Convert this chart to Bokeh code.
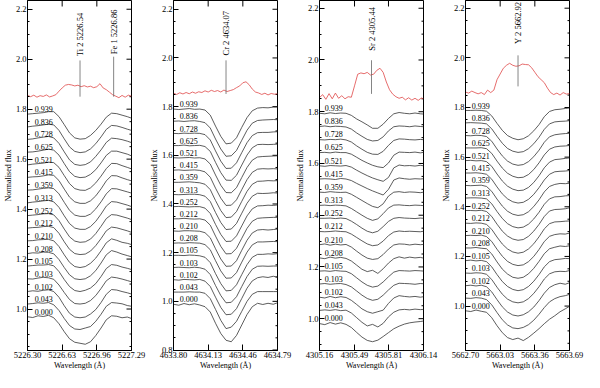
import math
from bokeh.plotting import figure
from bokeh.layouts import row
from bokeh.models import (Range1d, FixedTicker, SingleIntervalTicker,
                          PrintfTickFormatter, ColumnDataSource)
from bokeh.core.properties import value
from bokeh.embed import file_html
from bokeh.resources import INLINE

FONT = "Liberation Serif"

phases = ["0.939", "0.836", "0.728", "0.625", "0.521", "0.415", "0.359", "0.313",
          "0.252", "0.212", "0.210", "0.208", "0.105", "0.103", "0.102", "0.043", "0.000"]

# ---------------- Panel 1 : Ti 2 / Fe 1 ----------------
p1_wave = [5226.30, 5226.35, 5226.40, 5226.45, 5226.50, 5226.55, 5226.60, 5226.65, 5226.70,
           5226.75, 5226.80, 5226.85, 5226.90, 5226.95, 5227.00, 5227.05, 5227.10, 5227.15,
           5227.20, 5227.25, 5227.29]
p1_flux = [
    [1.000,1.002,1.004,1.006,1.010,1.010,0.990,0.958,0.925,0.905,0.900,0.902,0.915,0.935,0.960,0.988,1.004,1.002,0.996,0.990,0.984],
    [1.000,1.003,1.005,1.008,1.011,1.008,0.986,0.952,0.920,0.902,0.897,0.900,0.912,0.933,0.960,0.990,1.006,1.004,0.998,0.991,0.986],
    [1.000,1.002,1.006,1.009,1.012,1.006,0.984,0.950,0.918,0.900,0.896,0.899,0.910,0.932,0.958,0.988,1.005,1.003,0.999,0.993,0.987],
    [1.000,1.001,1.004,1.008,1.012,1.008,0.988,0.954,0.922,0.903,0.898,0.900,0.911,0.930,0.957,0.987,1.004,1.004,0.998,0.992,0.985],
    [1.000,1.003,1.005,1.007,1.011,1.009,0.990,0.957,0.925,0.905,0.899,0.898,0.908,0.928,0.955,0.985,1.006,1.005,0.997,0.990,0.984],
    [1.000,1.002,1.003,1.006,1.010,1.008,0.987,0.953,0.921,0.902,0.896,0.896,0.906,0.926,0.954,0.986,1.007,1.006,0.998,0.991,0.986],
    [1.000,1.001,1.004,1.007,1.009,1.006,0.985,0.951,0.919,0.900,0.895,0.895,0.904,0.925,0.953,0.985,1.006,1.005,0.999,0.993,0.988],
    [1.000,1.003,1.005,1.008,1.010,1.004,0.982,0.948,0.917,0.899,0.894,0.894,0.905,0.926,0.955,0.987,1.005,1.003,0.997,0.991,0.985],
    [1.000,1.002,1.004,1.007,1.008,1.003,0.980,0.946,0.915,0.898,0.893,0.895,0.906,0.928,0.957,0.988,1.004,1.002,0.996,0.990,0.984],
    [1.000,1.002,1.003,1.006,1.007,1.002,0.979,0.945,0.915,0.898,0.894,0.896,0.908,0.930,0.958,0.989,1.004,1.001,0.995,0.989,0.983],
    [1.000,1.001,1.004,1.005,1.006,1.000,0.977,0.944,0.914,0.897,0.893,0.897,0.910,0.931,0.960,0.992,1.008,1.002,0.994,0.990,0.985],
    [1.000,1.003,1.002,1.006,1.005,0.999,0.976,0.944,0.915,0.899,0.896,0.899,0.911,0.932,0.962,0.995,1.012,1.006,0.998,0.992,0.987],
    [1.000,1.002,1.004,1.004,1.006,1.001,0.978,0.946,0.918,0.902,0.898,0.903,0.912,0.930,0.958,0.990,1.006,1.003,0.996,0.991,0.986],
    [1.000,0.999,1.003,1.006,1.004,0.998,0.975,0.945,0.917,0.901,0.899,0.902,0.913,0.933,0.961,0.992,1.007,1.004,0.999,0.993,0.988],
    [1.000,1.003,1.001,1.005,1.007,1.000,0.977,0.943,0.913,0.898,0.895,0.898,0.910,0.928,0.956,0.989,1.008,1.006,1.000,0.995,0.990],
    [1.000,1.002,1.005,1.003,1.006,0.997,0.974,0.942,0.914,0.900,0.898,0.904,0.910,0.931,0.959,0.991,1.006,1.004,1.001,0.994,0.991],
    [1.000,0.997,1.004,1.001,1.006,0.996,0.972,0.940,0.912,0.898,0.894,0.890,0.900,0.925,0.955,0.988,1.004,1.002,0.996,0.999,0.993],
]
p1_offset = [1.780, 1.729, 1.679, 1.628, 1.577, 1.527, 1.476, 1.425, 1.374, 1.324, 1.273,
             1.222, 1.172, 1.121, 1.070, 1.020, 0.969]
p1_red_wave = [5226.30, 5226.33, 5226.36, 5226.39, 5226.42, 5226.45, 5226.48, 5226.51, 5226.54,
               5226.57, 5226.60, 5226.63, 5226.66, 5226.69, 5226.72, 5226.75, 5226.78, 5226.81,
               5226.84, 5226.87, 5226.90, 5226.93, 5226.96, 5226.99, 5227.02, 5227.05, 5227.08,
               5227.11, 5227.14, 5227.17, 5227.20, 5227.23, 5227.26, 5227.29]
p1_red_flux = [1.855, 1.850, 1.856, 1.848, 1.854, 1.851, 1.857, 1.849, 1.853, 1.858, 1.872,
               1.885, 1.896, 1.899, 1.897, 1.893, 1.896, 1.890, 1.894, 1.889, 1.892, 1.886,
               1.890, 1.902, 1.885, 1.878, 1.868, 1.858, 1.852, 1.846, 1.855, 1.848, 1.856, 1.852]
p1_xticks = [5226.30, 5226.63, 5226.96, 5227.29]
p1_yrange = [0.834, 2.235]
p1_ids = ["Ti 2 5226.54", "Fe 1 5226.86"]
p1_id_x = [5226.80, 5227.12]
p1_id_low = [1.850, 1.850]
p1_id_high = [1.995, 2.010]
p1_id_text_y = [2.012, 2.020]
p1_label_x = 5226.37

# ---------------- Panel 2 : Cr 2 ----------------
p2_wave = [4633.80, 4633.85, 4633.90, 4633.95, 4634.00, 4634.05, 4634.10, 4634.15, 4634.20,
           4634.25, 4634.30, 4634.35, 4634.40, 4634.45, 4634.50, 4634.55, 4634.60, 4634.65,
           4634.70, 4634.75, 4634.79]
p2_flux = [
    [1.000,0.998,1.000,1.002,0.999,1.000,0.996,0.975,0.930,0.888,0.857,0.860,0.882,0.925,0.965,0.993,1.004,1.006,1.005,1.008,1.008],
    [1.000,1.001,0.999,1.001,1.002,0.999,0.994,0.972,0.927,0.886,0.856,0.858,0.880,0.922,0.963,0.992,1.003,1.005,1.006,1.007,1.006],
    [1.000,0.999,1.001,1.000,1.001,1.000,0.995,0.973,0.928,0.886,0.856,0.857,0.879,0.921,0.962,0.991,1.003,1.004,1.004,1.006,1.007],
    [1.000,1.000,1.002,0.999,1.000,1.001,0.996,0.976,0.931,0.889,0.858,0.857,0.878,0.920,0.961,0.991,1.004,1.005,1.004,1.005,1.006],
    [1.000,0.999,1.000,1.001,0.999,1.000,0.995,0.974,0.929,0.887,0.857,0.856,0.877,0.919,0.960,0.990,1.003,1.005,1.006,1.007,1.008],
    [1.000,1.001,0.999,1.000,1.001,0.999,0.993,0.971,0.926,0.885,0.855,0.856,0.878,0.920,0.961,0.991,1.004,1.006,1.005,1.006,1.005],
    [1.000,1.000,1.001,1.002,1.000,0.998,0.992,0.970,0.925,0.884,0.855,0.857,0.880,0.922,0.963,0.992,1.004,1.005,1.007,1.006,1.007],
    [1.000,0.999,1.000,1.001,1.001,0.999,0.993,0.971,0.926,0.885,0.856,0.858,0.881,0.923,0.964,0.993,1.005,1.004,1.005,1.007,1.006],
    [1.000,1.001,1.000,0.999,1.000,1.000,0.994,0.972,0.927,0.886,0.857,0.858,0.880,0.921,0.962,0.991,1.003,1.004,1.006,1.005,1.007],
    [1.000,1.000,1.002,1.000,0.999,1.000,0.995,0.974,0.929,0.887,0.856,0.857,0.879,0.920,0.961,0.990,1.002,1.004,1.005,1.006,1.006],
    [1.000,0.999,1.001,1.001,1.000,0.999,0.993,0.972,0.927,0.885,0.855,0.856,0.878,0.921,0.962,0.992,1.004,1.006,1.004,1.006,1.008],
    [1.000,1.001,1.000,1.002,1.001,1.000,0.994,0.973,0.928,0.886,0.856,0.857,0.879,0.922,0.963,0.993,1.005,1.005,1.006,1.007,1.006],
    [1.000,1.000,0.999,1.001,1.000,0.998,0.992,0.970,0.925,0.884,0.854,0.856,0.879,0.921,0.962,0.992,1.004,1.004,1.006,1.005,1.007],
    [1.000,1.001,1.000,0.999,1.001,0.999,0.993,0.971,0.926,0.885,0.855,0.857,0.880,0.922,0.963,0.993,1.005,1.006,1.005,1.006,1.006],
    [1.000,0.998,1.001,1.000,0.999,1.001,0.994,0.972,0.928,0.886,0.856,0.858,0.881,0.923,0.965,0.995,1.008,1.012,1.009,1.014,1.010],
    [1.000,1.000,1.000,1.001,1.000,1.000,0.995,0.973,0.929,0.884,0.850,0.856,0.880,0.921,0.962,0.991,1.002,1.002,1.002,1.002,1.002],
    [1.000,0.996,1.003,0.998,1.002,0.997,0.990,0.968,0.922,0.880,0.852,0.846,0.872,0.915,0.958,0.990,1.004,0.999,1.004,1.000,1.006],
]
p2_offset = [1.790, 1.740, 1.690, 1.640, 1.590, 1.539, 1.489, 1.439, 1.389, 1.339, 1.289,
             1.239, 1.189, 1.139, 1.089, 1.038, 0.988]
p2_red_wave = [4633.80, 4633.83, 4633.86, 4633.89, 4633.92, 4633.95, 4633.98, 4634.01, 4634.04,
               4634.07, 4634.10, 4634.13, 4634.16, 4634.19, 4634.22, 4634.25, 4634.28, 4634.31,
               4634.34, 4634.37, 4634.40, 4634.43, 4634.46, 4634.49, 4634.52, 4634.55, 4634.58,
               4634.61, 4634.64, 4634.67, 4634.70, 4634.73, 4634.76, 4634.79]
p2_red_flux = [1.855, 1.850, 1.857, 1.852, 1.858, 1.853, 1.860, 1.855, 1.861, 1.858, 1.865,
               1.860, 1.867, 1.862, 1.866, 1.860, 1.868, 1.862, 1.866, 1.870, 1.878, 1.885,
               1.898, 1.902, 1.890, 1.872, 1.860, 1.856, 1.850, 1.855, 1.848, 1.854, 1.851, 1.853]
p2_xticks = [4633.80, 4634.13, 4634.46, 4634.79]
p2_yrange = [0.798, 2.236]
p2_ids = ["Cr 2 4634.07"]
p2_id_x = [4634.30]
p2_id_low = [1.852]
p2_id_high = [1.990]
p2_id_text_y = [2.010]
p2_label_x = 4633.86

# ---------------- Panel 3 : Sr 2 ----------------
p3_wave = [4305.16, 4305.21, 4305.26, 4305.31, 4305.36, 4305.41, 4305.46, 4305.51, 4305.56,
           4305.61, 4305.66, 4305.71, 4305.76, 4305.81, 4305.86, 4305.91, 4305.96, 4306.01,
           4306.06, 4306.11, 4306.14]
p3_flux = [
    [1.000,0.998,1.002,0.999,1.001,1.000,0.992,0.978,0.967,0.955,0.942,0.942,0.958,0.980,0.998,1.003,1.000,0.998,1.001,0.998,0.997],
    [1.000,1.002,0.999,1.001,1.000,0.998,0.990,0.975,0.962,0.950,0.944,0.946,0.960,0.983,0.999,1.002,1.001,0.999,1.002,1.000,0.999],
    [1.000,0.999,1.001,1.000,1.002,0.999,0.991,0.976,0.963,0.951,0.944,0.943,0.955,0.978,0.997,1.003,1.002,1.000,0.999,1.001,1.000],
    [1.000,1.001,0.999,1.002,1.000,1.000,0.994,0.982,0.970,0.960,0.951,0.945,0.942,0.960,0.990,1.002,1.001,1.000,1.002,0.999,1.001],
    [1.000,0.998,1.001,1.000,0.999,1.001,0.995,0.983,0.972,0.962,0.953,0.946,0.940,0.955,0.992,1.003,1.000,1.001,0.999,1.002,1.000],
    [1.000,1.001,1.000,0.998,1.002,1.000,0.994,0.983,0.973,0.963,0.954,0.946,0.938,0.960,0.996,1.004,1.001,0.999,1.001,1.000,1.001],
    [1.000,0.999,1.002,1.000,0.999,1.000,0.992,0.980,0.968,0.956,0.945,0.940,0.955,0.985,1.000,1.002,0.999,1.001,1.000,0.998,1.000],
    [1.000,1.001,0.999,1.001,1.000,0.998,0.988,0.975,0.962,0.950,0.942,0.948,0.968,0.990,1.001,1.002,1.000,0.999,1.001,1.000,0.999],
    [1.000,1.000,1.001,0.999,1.001,0.999,0.989,0.976,0.962,0.950,0.944,0.950,0.968,0.988,1.000,1.003,1.001,1.000,0.999,1.001,1.000],
    [1.000,0.999,1.000,1.002,1.000,0.999,0.990,0.977,0.964,0.952,0.945,0.948,0.963,0.984,0.998,1.002,1.000,1.001,1.000,0.999,1.001],
    [1.000,1.003,0.998,1.002,0.999,1.001,0.991,0.975,0.960,0.948,0.943,0.946,0.962,0.983,0.999,1.003,1.002,0.999,1.002,1.000,1.001],
    [1.000,0.997,1.003,0.999,1.002,0.998,0.988,0.972,0.956,0.947,0.952,0.940,0.958,0.980,0.997,1.004,0.999,1.003,1.000,1.002,0.999],
    [1.000,1.001,0.999,1.002,1.000,0.999,0.990,0.974,0.958,0.945,0.938,0.942,0.958,0.978,0.996,1.002,1.001,1.000,1.002,1.001,1.000],
    [1.000,1.002,0.999,1.001,1.002,0.998,0.989,0.973,0.957,0.944,0.937,0.941,0.957,0.977,0.995,1.003,1.002,1.001,0.999,1.002,1.001],
    [1.000,0.997,1.003,0.998,1.002,0.999,0.988,0.972,0.955,0.944,0.938,0.944,0.950,0.976,0.997,1.006,1.003,1.001,1.003,1.000,1.002],
    [1.000,1.002,1.000,1.003,0.999,1.001,0.990,0.972,0.954,0.940,0.946,0.936,0.950,0.975,0.993,1.002,1.004,1.002,1.005,1.003,1.004],
    [1.000,0.996,1.004,0.998,1.003,0.997,0.985,0.966,0.948,0.935,0.930,0.936,0.950,0.965,0.980,0.990,0.998,1.003,1.006,1.008,1.010],
]
p3_offset = [1.794, 1.743, 1.692, 1.642, 1.591, 1.540, 1.489, 1.438, 1.388, 1.337, 1.286,
             1.235, 1.184, 1.134, 1.083, 1.032, 0.981]
p3_red_wave = [4305.16, 4305.19, 4305.22, 4305.25, 4305.28, 4305.31, 4305.34, 4305.37, 4305.40,
               4305.43, 4305.46, 4305.49, 4305.52, 4305.55, 4305.58, 4305.61, 4305.64, 4305.67,
               4305.70, 4305.73, 4305.76, 4305.79, 4305.82, 4305.85, 4305.88, 4305.91, 4305.94,
               4305.97, 4306.00, 4306.03, 4306.06, 4306.09, 4306.12, 4306.14]
p3_red_flux = [1.855, 1.866, 1.848, 1.870, 1.850, 1.872, 1.852, 1.862, 1.850, 1.858, 1.856,
               1.900, 1.945, 1.950, 1.947, 1.952, 1.942, 1.945, 1.960, 1.968, 1.952, 1.915,
               1.885, 1.868, 1.858, 1.852, 1.856, 1.846, 1.854, 1.845, 1.852, 1.844, 1.853, 1.850]
p3_xticks = [4305.16, 4305.49, 4305.81, 4306.14]
p3_yrange = [0.877, 2.230]
p3_ids = ["Sr 2 4305.44"]
p3_id_x = [4305.65]
p3_id_low = [1.869]
p3_id_high = [1.999]
p3_id_text_y = [2.036]
p3_label_x = 4305.21

# ---------------- Panel 4 : Y 2 ----------------
p4_wave = [5662.70, 5662.75, 5662.80, 5662.85, 5662.90, 5662.95, 5663.00, 5663.05, 5663.10,
           5663.15, 5663.20, 5663.25, 5663.30, 5663.35, 5663.40, 5663.45, 5663.50, 5663.55,
           5663.60, 5663.65, 5663.69]
p4_flux = [
    [1.000,1.000,1.001,1.000,0.997,0.978,0.948,0.920,0.899,0.888,0.882,0.886,0.898,0.918,0.943,0.975,0.996,1.003,1.005,1.008,1.010],
    [1.000,1.001,1.000,0.999,0.996,0.976,0.946,0.918,0.897,0.886,0.881,0.884,0.896,0.916,0.942,0.974,0.996,1.004,1.006,1.007,1.009],
    [1.000,0.999,1.001,1.000,0.996,0.977,0.946,0.918,0.897,0.885,0.880,0.883,0.895,0.915,0.941,0.973,0.995,1.003,1.006,1.008,1.009],
    [1.000,1.000,1.000,1.001,0.997,0.978,0.947,0.919,0.898,0.886,0.880,0.882,0.893,0.913,0.940,0.972,0.995,1.004,1.007,1.008,1.010],
    [1.000,1.001,0.999,1.000,0.996,0.977,0.946,0.918,0.897,0.885,0.879,0.881,0.892,0.912,0.939,0.971,0.994,1.004,1.006,1.009,1.011],
    [1.000,1.000,1.001,0.999,0.995,0.975,0.944,0.916,0.896,0.884,0.879,0.882,0.894,0.914,0.941,0.972,0.995,1.005,1.007,1.008,1.010],
    [1.000,0.999,1.000,1.001,0.996,0.976,0.945,0.917,0.896,0.884,0.879,0.882,0.894,0.915,0.942,0.974,0.996,1.004,1.008,1.007,1.009],
    [1.000,1.001,1.001,1.000,0.997,0.977,0.946,0.918,0.897,0.885,0.880,0.883,0.895,0.916,0.943,0.975,0.997,1.005,1.006,1.009,1.010],
    [1.000,1.000,0.999,1.001,0.996,0.976,0.945,0.917,0.897,0.885,0.880,0.883,0.896,0.917,0.944,0.976,0.998,1.004,1.005,1.007,1.011],
    [1.000,0.999,1.001,1.000,0.995,0.975,0.944,0.916,0.896,0.884,0.879,0.883,0.896,0.917,0.945,0.977,0.998,1.005,1.006,1.008,1.009],
    [1.000,1.001,1.000,1.002,0.996,0.976,0.945,0.917,0.896,0.884,0.879,0.882,0.895,0.916,0.944,0.976,0.997,1.004,1.007,1.006,1.010],
    [1.000,1.000,1.002,0.999,0.997,0.976,0.944,0.915,0.895,0.882,0.878,0.882,0.896,0.918,0.946,0.977,0.997,1.003,1.008,1.006,1.009],
    [1.000,1.002,0.999,1.001,0.996,0.975,0.944,0.916,0.896,0.884,0.879,0.883,0.896,0.917,0.944,0.975,0.996,1.004,1.006,1.009,1.008],
    [1.000,0.999,1.001,1.000,0.995,0.974,0.943,0.915,0.895,0.884,0.880,0.884,0.897,0.918,0.945,0.976,0.997,1.005,1.007,1.006,1.010],
    [1.000,1.002,0.999,1.002,0.996,0.975,0.944,0.915,0.894,0.882,0.878,0.883,0.895,0.914,0.940,0.970,0.993,1.004,1.010,1.006,1.012],
    [1.000,0.999,1.002,1.000,0.994,0.973,0.942,0.913,0.892,0.880,0.877,0.882,0.893,0.911,0.935,0.962,0.985,0.998,1.006,1.010,1.015],
    [1.000,0.997,1.003,0.998,0.994,0.972,0.940,0.912,0.892,0.884,0.890,0.880,0.893,0.910,0.928,0.948,0.966,0.980,0.996,1.008,1.018],
]
p4_offset = [1.788, 1.738, 1.687, 1.637, 1.586, 1.536, 1.486, 1.435, 1.385, 1.334, 1.284,
             1.234, 1.183, 1.133, 1.082, 1.032, 0.981]
p4_red_wave = [5662.70, 5662.73, 5662.76, 5662.79, 5662.82, 5662.85, 5662.88, 5662.91, 5662.94,
               5662.97, 5663.00, 5663.03, 5663.06, 5663.09, 5663.12, 5663.15, 5663.18, 5663.21,
               5663.24, 5663.27, 5663.30, 5663.33, 5663.36, 5663.39, 5663.42, 5663.45, 5663.48,
               5663.51, 5663.54, 5663.57, 5663.60, 5663.63, 5663.66, 5663.69]
p4_red_flux = [1.862, 1.858, 1.866, 1.860, 1.855, 1.860, 1.852, 1.870, 1.860, 1.870, 1.912,
               1.935, 1.958, 1.970, 1.978, 1.970, 1.966, 1.968, 1.975, 1.973, 1.972, 1.960,
               1.942, 1.924, 1.912, 1.900, 1.878, 1.860, 1.852, 1.858, 1.850, 1.860, 1.854, 1.856]
p4_xticks = [5662.70, 5663.03, 5663.36, 5663.69]
p4_yrange = [0.821, 2.231]
p4_ids = ["Y  2 5662.92"]
p4_id_x = [5663.20]
p4_id_low = [1.885]
p4_id_high = [2.010]
p4_id_text_y = [2.056]
p4_label_x = 5662.76

y_major_step = 0.2
y_minor_step = 0.05


def make_panel(wave, flux, offset, red_wave, red_flux, xticks, yrange, ids, id_x, id_low,
               id_high, id_text_y, label_x, width, ml, mr):
    x0, x1 = xticks[0], xticks[-1]
    p = figure(width=width, height=372, output_backend="svg", toolbar_location=None,
               x_range=Range1d(x0, x1), y_range=Range1d(yrange[0], yrange[1]),
               min_border_left=ml, min_border_right=mr, min_border_top=0,
               min_border_bottom=22)
    p.grid.visible = False
    p.outline_line_color = "black"
    p.outline_line_width = 1
    p.background_fill_color = "white"
    p.border_fill_color = "white"

    xa = p.xaxis[0]
    xa.ticker = FixedTicker(ticks=xticks)
    xa.formatter = PrintfTickFormatter(format="%.2f")
    xa.axis_label = "Wavelength (Å)"
    xa.major_tick_in = 6
    xa.major_tick_out = 0
    xa.minor_tick_in = 0
    xa.minor_tick_out = 0
    ya = p.yaxis[0]
    ya.ticker = SingleIntervalTicker(interval=y_major_step, num_minor_ticks=4)
    ya.formatter = PrintfTickFormatter(format="%.1f")
    ya.axis_label = "Normalised flux"
    ya.major_tick_in = 5
    ya.major_tick_out = 0
    ya.minor_tick_in = 2
    ya.minor_tick_out = 0
    for ax in (xa, ya):
        ax.axis_line_color = "black"
        ax.major_tick_line_color = "black"
        ax.minor_tick_line_color = "black"
        ax.major_label_text_font = FONT
        ax.major_label_text_font_size = "8.5px"
        ax.major_label_text_color = "black"
        ax.major_label_text_line_height = 1.0
        ax.axis_label_text_font = FONT
        ax.axis_label_text_font_size = "8px"
        ax.axis_label_text_font_style = "normal"
        ax.axis_label_text_color = "black"
        ax.axis_label_text_line_height = 1.0
        ax.major_label_standoff = 1
        ax.axis_label_standoff = 0

    # mirrored ticks on the top and right edges (inward), clipped by the frame
    p.scatter(x=xticks, y=[yrange[1]] * len(xticks), marker="dash", angle=math.pi / 2,
              size=12, line_color="black", line_width=1)
    n0 = math.ceil(yrange[0] / y_minor_step)
    n1 = math.floor(yrange[1] / y_minor_step)
    all_y = [round(k * y_minor_step, 2) for k in range(n0, n1 + 1)]
    major_y = [v for v in all_y if abs(v / y_major_step - round(v / y_major_step)) < 1e-6]
    minor_y = [v for v in all_y if v not in major_y]
    p.scatter(x=[x1] * len(major_y), y=major_y, marker="dash", size=10,
              line_color="black", line_width=1)
    p.scatter(x=[x1] * len(minor_y), y=minor_y, marker="dash", size=4,
              line_color="black", line_width=1)

    xs = [wave for _ in flux]
    ys = [[f + off - 1.0 for f in prof] for prof, off in zip(flux, offset)]
    p.multi_line(xs=xs, ys=ys, line_color="#333333", line_width=0.8)
    p.line(red_wave, red_flux, line_color="#e04848", line_width=0.8)

    p.segment(x0=id_x, y0=id_low, x1=id_x, y1=id_high, line_color="#666666", line_width=0.8)
    p.text(x=id_x, y=id_text_y, text=ids, angle=math.pi / 2, text_align="left",
           text_baseline="middle", text_font=value(FONT), text_font_size="8.5px",
           text_color="black")

    src = ColumnDataSource(dict(x=[label_x] * len(phases),
                                y=[off + 0.02 for off in offset], t=phases))
    p.text(x="x", y="y", text="t", source=src, text_align="left", text_baseline="middle",
           text_font=value(FONT), text_font_size="8px", text_color="#000000")
    return p


f1 = make_panel(p1_wave, p1_flux, p1_offset, p1_red_wave, p1_red_flux, p1_xticks, p1_yrange,
                p1_ids, p1_id_x, p1_id_low, p1_id_high, p1_id_text_y, p1_label_x, 146, 22, 15)
f2 = make_panel(p2_wave, p2_flux, p2_offset, p2_red_wave, p2_red_flux, p2_xticks, p2_yrange,
                p2_ids, p2_id_x, p2_id_low, p2_id_high, p2_id_text_y, p2_label_x, 146, 22, 15)
f3 = make_panel(p3_wave, p3_flux, p3_offset, p3_red_wave, p3_red_flux, p3_xticks, p3_yrange,
                p3_ids, p3_id_x, p3_id_low, p3_id_high, p3_id_text_y, p3_label_x, 146, 22, 15)
f4 = make_panel(p4_wave, p4_flux, p4_offset, p4_red_wave, p4_red_flux, p4_xticks, p4_yrange,
                p4_ids, p4_id_x, p4_id_low, p4_id_high, p4_id_text_y, p4_label_x, 146, 22, 15)

layout = row(f1, f2, f3, f4)
open("out.html", "w").write(file_html(layout, INLINE))
